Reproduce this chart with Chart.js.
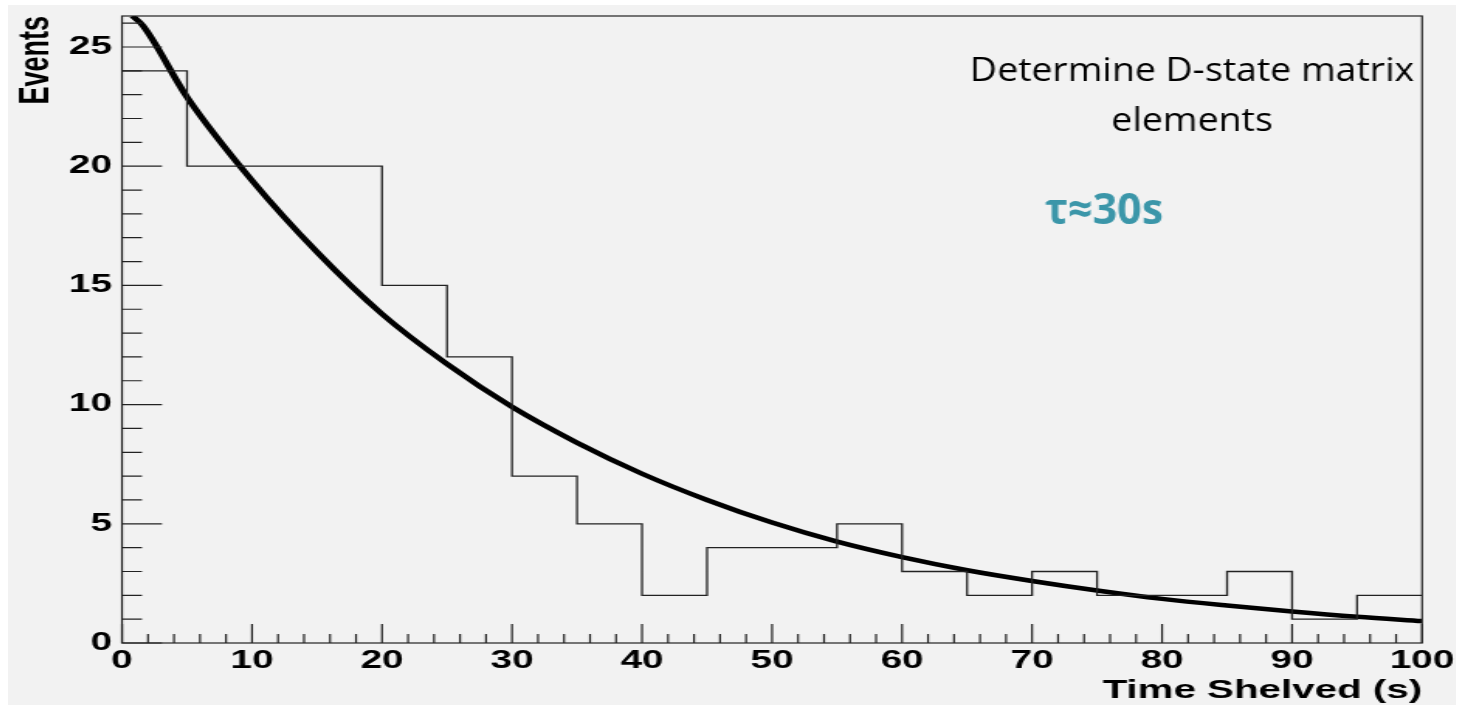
<!DOCTYPE html>
<html>
<head>
<meta charset="utf-8">
<script src="https://cdn.jsdelivr.net/npm/chart.js@4"></script>
<style>
  body { margin: 0; background: #fff; width: 1462px; height: 705px; overflow: hidden; }
  #bg { position: absolute; left: 8px; top: 5px; width: 1448px; height: 700px; background: #f2f2f2; }
  #myChart { position: absolute; left: 0; top: 0; transform-origin: 0 0; }
</style>
</head>
<body>
<div id="bg"><canvas id="myChart" width="934" height="700"></canvas></div>
<script>
// histogram: lower bin edges and counts (bin width 5 s)
var binLow = [0, 5, 10, 15, 20, 25, 30, 35, 40, 45, 50, 55, 60, 65, 70, 75, 80, 85, 90, 95];
var counts = [24, 20, 20, 20, 15, 12, 7, 5, 2, 4, 4, 5, 3, 2, 3, 2, 2, 3, 1, 2];
var binHigh = 100;

// exponential fit curve (clipped at the top of the frame)
var fitX = [0.8, 1.6, 5, 10, 15, 20, 25, 30, 35, 40, 45, 50, 55, 60, 65, 70, 75, 80, 85, 90, 95, 100];
var fitY = [26.3, 25.9, 22.9, 19.4, 16.4, 13.8, 11.7, 9.9, 8.4, 7.1, 6.0, 5.05, 4.25, 3.6, 3.05, 2.6, 2.2, 1.85, 1.57, 1.32, 1.1, 0.92];

var xTicks = [0, 10, 20, 30, 40, 50, 60, 70, 80, 90, 100];
var yTicks = [0, 5, 10, 15, 20, 25];

var noteLines = ['Determine D-state matrix', 'elements'];
var noteTau = 'τ≈30s';

// the original picture is stretched horizontally
var S = 1.55;
document.getElementById('myChart').style.transform = 'scaleX(' + S + ')';

var histPoints = binLow.map(function (x, i) { return { x: x, y: counts[i] }; });
histPoints.push({ x: binHigh, y: counts[counts.length - 1] });

var fitPoints = fitX.map(function (x, i) { return { x: x, y: fitY[i] }; });

var rootFrame = {
    id: 'rootFrame',
    afterDatasetsDraw: function (chart) {
        var ctx = chart.ctx;
        var a = chart.chartArea;
        var xs = chart.scales.x, ys = chart.scales.y;
        ctx.save();
        ctx.strokeStyle = '#222';
        ctx.lineWidth = 1.2;
        ctx.strokeRect(a.left, a.top, a.right - a.left, a.bottom - a.top);
        ctx.beginPath();
        for (var v = 0; v <= 26; v++) {
            var py = ys.getPixelForValue(v);
            var len = (v % 5 === 0) ? 40 / S : 20 / S;
            ctx.moveTo(a.left, py);
            ctx.lineTo(a.left + len, py);
        }
        for (var u = 0; u <= 100; u += 2) {
            var px = xs.getPixelForValue(u);
            var l2 = (u % 10 === 0) ? 19 : 9;
            ctx.moveTo(px, a.bottom);
            ctx.lineTo(px, a.bottom - l2);
        }
        ctx.stroke();
        ctx.restore();
    },
    afterDraw: function (chart) {
        var ctx = chart.ctx;
        // slide text, widened a little like in the picture
        var k = 1.17;
        ctx.save();
        ctx.scale(k / S, 1);
        ctx.textAlign = 'center';
        ctx.textBaseline = 'alphabetic';
        ctx.fillStyle = '#000';
        ctx.font = '32px "Open Sans"';
        ctx.fillText(noteLines[0], (1192 - 8) / k, 76);
        ctx.fillText(noteLines[1], (1192 - 8) / k, 126);
        ctx.restore();
        ctx.save();
        ctx.scale(1 / S, 1);
        ctx.textAlign = 'center';
        ctx.fillStyle = '#3b96a9';
        ctx.font = 'bold 43px "Open Sans"';
        ctx.fillText(noteTau, 1104 - 8, 219);
        ctx.restore();
    }
};

myChart = new Chart(document.getElementById('myChart').getContext('2d'), {
    type: 'line',
    data: {
        datasets: [
            {
                data: histPoints,
                stepped: 'before',
                borderColor: '#222',
                borderWidth: 1.3,
                pointRadius: 0,
                fill: false,
            },
            {
                data: fitPoints,
                borderColor: '#000',
                borderWidth: 4.5,
                pointRadius: 0,
                cubicInterpolationMode: 'monotone',
                fill: false,
            },
        ],
    },
    options: {
        responsive: false,
        animation: false,
        events: [],
        layout: { padding: { top: 11, right: 21.7, left: 0, bottom: 0 } },
        plugins: {
            legend: { display: false },
            tooltip: { enabled: false },
        },
        scales: {
            x: {
                type: 'linear',
                min: 0,
                max: 100,
                afterBuildTicks: function (s) { s.ticks = xTicks.map(function (v) { return { value: v }; }); },
                afterFit: function (s) {
                    s.height = 62;
                    s.paddingLeft = 0; s.paddingRight = 0;
                },
                grid: { display: false, drawTicks: false },
                border: { display: false },
                ticks: {
                    padding: 3,
                    maxRotation: 0,
                    autoSkip: false,
                    color: '#000',
                    font: { family: '"Liberation Sans", Arial', weight: 'bold', size: 25 },
                },
                title: {
                    display: true,
                    text: 'Time Shelved (s)',
                    align: 'end',
                    color: '#000',
                    padding: { top: 0, bottom: 0 },
                    font: { family: '"Liberation Sans", Arial', weight: 'bold', size: 26, lineHeight: 1.1 },
                },
            },
            y: {
                type: 'linear',
                min: 0,
                max: 26.3,
                afterBuildTicks: function (s) { s.ticks = yTicks.map(function (v) { return { value: v }; }); },
                afterFit: function (s) {
                    s.width = 73.55;
                    s.paddingTop = 0; s.paddingBottom = 0;
                },
                grid: { display: false, drawTicks: false },
                border: { display: false },
                ticks: {
                    padding: 6.5,
                    color: '#000',
                    font: { family: '"Liberation Sans", Arial', weight: 'bold', size: 25 },
                },
                title: {
                    display: true,
                    text: 'Events',
                    align: 'end',
                    color: '#000',
                    padding: { top: 2.5, bottom: 0 },
                    font: { family: '"Liberation Sans", Arial', weight: 'bold', size: 27, lineHeight: 1.2 },
                },
            },
        },
    },
    plugins: [rootFrame],
});
</script>
</body>
</html>
